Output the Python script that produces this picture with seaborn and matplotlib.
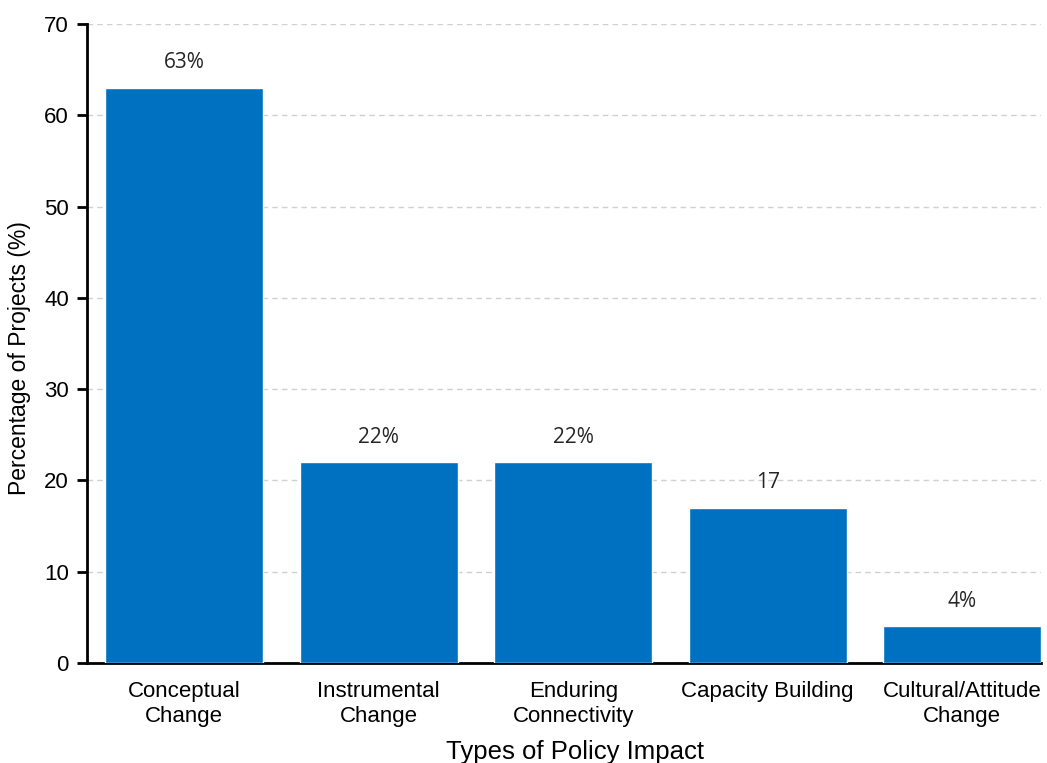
import matplotlib
matplotlib.use("Agg")
import matplotlib.pyplot as plt
import seaborn as sns
import pandas as pd

categories = ["Conceptual\nChange", "Instrumental\nChange", "Enduring\nConnectivity",
              "Capacity Building", "Cultural/Attitude\nChange"]
values = [63, 22, 22, 17, 4]
labels = ["63%", "22%", "22%", "17", "4%"]

df = pd.DataFrame({"cat": categories, "val": values})

sns.set_theme(style="white")
plt.rcParams["font.family"] = ["Liberation Sans", "DejaVu Sans"]

fig = plt.figure(figsize=(10.47, 7.63), dpi=100)
ax = fig.add_axes([87/1047, 1-663/763, (1041-87)/1047, (663-24)/763])

sns.barplot(data=df, x="cat", y="val", color="#0070C0", saturation=1,
            width=0.81, ax=ax, zorder=3)

for i, (v, t) in enumerate(zip(values, labels)):
    ax.annotate(t, (i, v), xytext=(0, 18), textcoords="offset points",
                ha="center", va="center", fontsize=15, color="#262626",
                family=["Open Sans", "DejaVu Sans"])

ax.set_ylim(0, 70)
ax.set_xlim(-0.5, 4.405)
ax.set_yticks(range(0, 71, 10))
ax.yaxis.grid(True, linestyle=(0, (4, 3)), color="#D0D0D0", linewidth=1, zorder=0)
ax.xaxis.grid(False)
ax.set_axisbelow(True)

for s in ["top", "right"]:
    ax.spines[s].set_visible(False)
for s in ["left", "bottom"]:
    ax.spines[s].set_color("black")
    ax.spines[s].set_linewidth(2)

ax.tick_params(axis="y", which="both", left=True, length=7, width=2, color="black",
               labelsize=16, pad=6, labelcolor="black")
ax.tick_params(axis="x", bottom=False, labelsize=16, pad=7, labelcolor="black")
for lab in ax.get_xticklabels():
    lab.set_linespacing(1.25)

ax.set_xlabel("Types of Policy Impact", fontsize=18.5, color="black")
ax.set_ylabel("Percentage of Projects (%)", fontsize=16.5, color="black")
ax.xaxis.set_label_coords((575 - 87) / 954, -(752 - 663) / 639, transform=ax.transAxes)
ax.xaxis.label.set_va("center")
ax.yaxis.set_label_coords(-(87 - 20) / 954, (663 - 358) / 639, transform=ax.transAxes)
ax.yaxis.label.set_va("center")

fig.savefig("out.png", dpi=100)
